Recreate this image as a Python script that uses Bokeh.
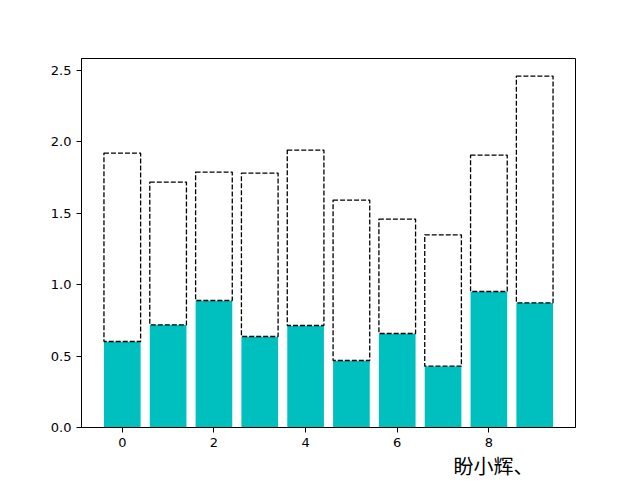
from bokeh.plotting import figure
from bokeh.models import Range1d, ColumnDataSource, FixedTicker, Title, CustomJSTickFormatter
from bokeh.embed import file_html
from bokeh.resources import INLINE

xs = [0, 1, 2, 3, 4, 5, 6, 7, 8, 9]
bottom_vals = [0.602, 0.719, 0.889, 0.637, 0.714, 0.469, 0.658, 0.429, 0.952, 0.873]
top_vals = [1.319, 0.999, 0.899, 1.144, 1.228, 1.123, 0.801, 0.920, 0.955, 1.587]
x_ticks = [0, 2, 4, 6, 8]
y_ticks = [0.0, 0.5, 1.0, 1.5, 2.0, 2.5]
note = "盼小辉、"

totals = [b + t for b, t in zip(bottom_vals, top_vals)]
src = ColumnDataSource(dict(x=xs, b=bottom_vals, tot=totals))

p = figure(frame_width=494, frame_height=369, output_backend="svg", toolbar_location=None,
           x_range=Range1d(-0.89, 9.89), y_range=Range1d(0, 2.583),
           min_border_left=81, min_border_top=58, min_border_right=57, min_border_bottom=52)
p.background_fill_color = "white"
p.border_fill_color = "white"
p.outline_line_color = "black"
p.outline_line_width = 1
p.xgrid.visible = False
p.ygrid.visible = False

p.vbar(x="x", top="b", bottom=0, width=0.8, source=src, fill_color="#00bfbf", line_color=None)
p.vbar(x="x", top="tot", bottom="b", width=0.8, source=src, fill_color="white",
       line_color="black", line_dash="5 2", line_width=1.3)

for ax in (p.xaxis[0], p.yaxis[0]):
    ax.major_label_text_font = "DejaVu Sans"
    ax.major_label_text_font_size = "13px"
    ax.major_label_text_color = "black"
    ax.axis_line_color = "black"
    ax.major_tick_line_color = "black"
    ax.major_tick_out = 5
    ax.major_tick_in = 0
    ax.minor_tick_line_color = None
p.xaxis[0].ticker = FixedTicker(ticks=x_ticks)
p.yaxis[0].ticker = FixedTicker(ticks=y_ticks)
p.yaxis[0].formatter = CustomJSTickFormatter(code="return tick.toFixed(1);")

t = Title(text=note, align="left", offset=372, text_font="Noto Sans CJK SC",
          text_font_size="20px", text_color="black", text_font_style="normal", standoff=-2)
p.add_layout(t, "below")

open("out.html", "w").write(file_html(p, INLINE))
